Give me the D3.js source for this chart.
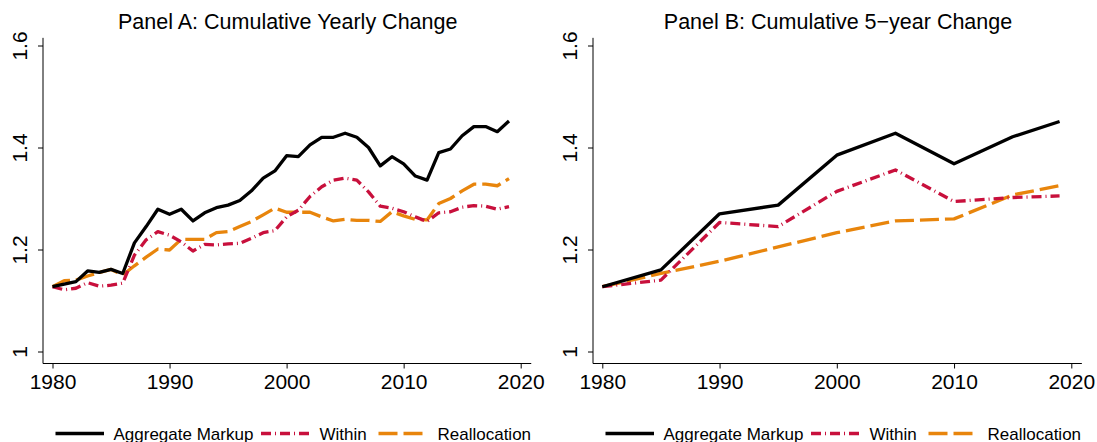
<!DOCTYPE html>
<html>
<head>
<meta charset="utf-8">
<script src="https://cdn.jsdelivr.net/npm/d3@7"></script>
<style>
  body { margin: 0; background: #fff; }
  svg { display: block; font-family: "Liberation Sans", Arial, Helvetica, sans-serif; }
</style>
</head>
<body>
<script>
// yearly series, panel A
var yearsA = [1980,1981,1982,1983,1984,1985,1986,1987,1988,1989,
              1990,1991,1992,1993,1994,1995,1996,1997,1998,1999,
              2000,2001,2002,2003,2004,2005,2006,2007,2008,2009,
              2010,2011,2012,2013,2014,2015,2016,2017,2018,2019];
var aggregateA = [1.127,1.132,1.137,1.158,1.155,1.161,1.153,1.213,1.245,1.279,
                  1.269,1.279,1.256,1.272,1.282,1.287,1.296,1.315,1.340,1.354,
                  1.384,1.382,1.405,1.420,1.420,1.428,1.420,1.400,1.364,1.382,
                  1.368,1.344,1.336,1.390,1.397,1.423,1.441,1.441,1.431,1.452];
var withinA = [1.127,1.121,1.124,1.135,1.128,1.130,1.134,1.189,1.219,1.235,
               1.228,1.215,1.197,1.210,1.209,1.211,1.212,1.222,1.233,1.237,
               1.264,1.277,1.304,1.323,1.336,1.340,1.336,1.313,1.285,1.281,
               1.274,1.264,1.255,1.272,1.274,1.283,1.286,1.285,1.279,1.284];
var reallocA = [1.127,1.139,1.140,1.148,1.155,1.161,1.150,1.168,1.185,1.201,
                1.199,1.220,1.220,1.220,1.233,1.235,1.245,1.255,1.268,1.281,
                1.273,1.273,1.273,1.264,1.256,1.259,1.257,1.257,1.255,1.274,
                1.266,1.259,1.258,1.290,1.300,1.315,1.328,1.328,1.325,1.339];

// 5-year series, panel B
var yearsB = [1980,1985,1990,1995,2000,2005,2010,2015,2019];
var aggregateB = [1.127,1.160,1.270,1.287,1.385,1.428,1.368,1.421,1.451];
var withinB = [1.127,1.140,1.253,1.245,1.314,1.356,1.294,1.302,1.305];
var reallocB = [1.127,1.153,1.177,1.205,1.233,1.256,1.260,1.307,1.325];

var xTicks = [1980,1990,2000,2010,2020];
var yTicks = [1,1.2,1.4,1.6];
var seriesNames = ["Aggregate Markup","Within","Reallocation"];

var styles = [
  {color:"#000000", dash:null},
  {color:"#c8103c", dash:"10,4,1,4"},
  {color:"#e8850c", dash:"19,6"}
];

var svg = d3.select("body").append("svg").attr("width",1097).attr("height",442);

function drawPanel(title, axisX, x0, x1, years, series) {
  var x = d3.scaleLinear().domain([1980,2020]).range([x0,x1]);
  var y = d3.scaleLinear().domain([1,1.6]).range([351.5,45.5]);
  var g = svg.append("g");

  g.append("text").attr("x",(axisX+x(2021))/2).attr("y",28.5)
    .attr("text-anchor","middle").style("font-size","21.5px").text(title);

  var yAxis = g.append("g").attr("transform","translate("+axisX+",0)")
    .call(d3.axisLeft(y).tickValues(yTicks).tickSize(5).tickFormat(d3.format("")));
  yAxis.select(".domain").remove();
  yAxis.selectAll("text").attr("transform","rotate(-90)")
    .attr("x",0).attr("y",-16).attr("dy",0)
    .attr("text-anchor","middle").style("font-size","21px").attr("fill","#000");

  var xAxis = g.append("g").attr("transform","translate(0,363.5)")
    .call(d3.axisBottom(x).tickValues(xTicks).tickSize(5).tickFormat(d3.format("d")));
  xAxis.select(".domain").remove();
  xAxis.selectAll("text").attr("y",11).attr("dy","0.71em")
    .style("font-size","21px").attr("fill","#000");
  g.selectAll(".tick line").attr("stroke","#000");
  g.selectAll(".tick text").attr("font-family",null).attr("font-size",null);

  g.append("line").attr("x1",axisX).attr("x2",axisX)
    .attr("y1",y(1.615)).attr("y2",363.5).attr("stroke","#000");
  g.append("line").attr("x1",axisX).attr("x2",x(2020.9))
    .attr("y1",363.5).attr("y2",363.5).attr("stroke","#000");

  var line = d3.line().x(function(d){ return x(d[0]); }).y(function(d){ return y(d[1]); });

  [2,1,0].forEach(function(i) {
    var pts = years.map(function(yr,k){ return [yr, series[i][k]]; });
    g.append("path").attr("d",line(pts)).attr("fill","none")
      .attr("stroke",styles[i].color).attr("stroke-width",3.3)
      .attr("stroke-linejoin","round")
      .attr("stroke-dasharray",styles[i].dash);
  });

  // legend
  var ly = 433.5, lt = 439.5;
  var keys = [
    {x1:12.5, x2:61, tx:70.5},
    {x1:218, x2:266.5, tx:276.5},
    {x1:335.5, x2:380, tx:394.5}
  ];
  keys.forEach(function(k,i) {
    g.append("line").attr("x1",axisX+k.x1).attr("x2",axisX+k.x2)
      .attr("y1",ly).attr("y2",ly)
      .attr("stroke",styles[i].color).attr("stroke-width",3.3)
      .attr("stroke-dasharray",styles[i].dash);
    g.append("text").attr("x",axisX+k.tx).attr("y",lt)
      .style("font-size","17px").text(seriesNames[i]);
  });
}

drawPanel("Panel A: Cumulative Yearly Change", 43, 52.5, 520.7, yearsA,
          [aggregateA, withinA, reallocA]);
drawPanel("Panel B: Cumulative 5\u2212year Change", 593, 602.3, 1071.3, yearsB,
          [aggregateB, withinB, reallocB]);
</script>
</body>
</html>
